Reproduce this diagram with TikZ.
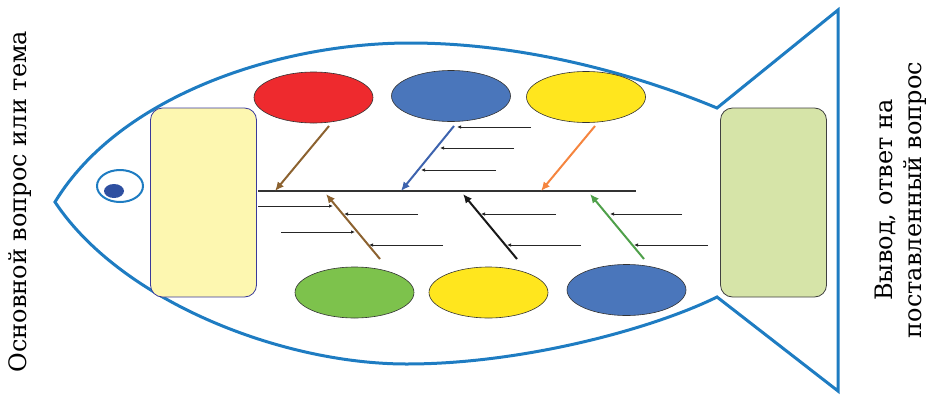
\documentclass[tikz,border=0pt]{standalone}
\usepackage{fontspec}
\setmainfont{DejaVu Serif}
\usepackage{tikz}
\usetikzlibrary{arrows,arrows.meta,shapes}

\definecolor{fishblue}{HTML}{1E7CC2}
\definecolor{pupil}{HTML}{2E4FA0}
\definecolor{ovred}{HTML}{EE2A2E}
\definecolor{ovblue}{HTML}{4A76BB}
\definecolor{ovyellow}{HTML}{FFE61E}
\definecolor{ovgreen}{HTML}{7DC24C}
\definecolor{topicfill}{HTML}{FDF7B0}
\definecolor{topicline}{HTML}{3A3A9A}
\definecolor{resultfill}{HTML}{D6E4A8}
\definecolor{bonebrown}{HTML}{8C6230}
\definecolor{boneblue}{HTML}{3D63AE}
\definecolor{boneorange}{HTML}{F5853F}
\definecolor{bonegreen}{HTML}{4FA04A}

\begin{document}
\begin{tikzpicture}[x=1pt,y=-1pt,>=latex',thick]
\tikzstyle{every node}=[inner sep=0pt]
\tikzstyle{oval}=[ellipse,draw=black!80,line width=0.6pt,minimum width=119pt,minimum height=51pt]
\tikzstyle{board}=[draw,rounded corners=12pt,line width=0.8pt,minimum width=106pt,minimum height=189pt]
\tikzstyle{bone}=[-{Latex[length=9pt,width=8pt]},line width=2pt]
\tikzstyle{rib}=[-{Latex[length=4pt,width=3.5pt]},line width=1pt,black!85]
\tikzstyle{caption}=[rotate=90,anchor=base,font=\fontsize{24}{29}\selectfont]

\useasboundingbox (0,0) rectangle (926,394);

% body and tail
\draw[fishblue,line width=3pt] (55,202) .. controls (120,95) and (280,43) .. (410,43)
  .. controls (530,43) and (645,78) .. (717,108) -- (838,10) -- (838,391) -- (717,297)
  .. controls (650,330) and (520,364) .. (407,364)
  .. controls (280,364) and (120,300) .. (55,202) -- cycle;

% eye
\node[ellipse,draw=fishblue,line width=2pt,minimum width=46pt,minimum height=32pt] (eye) at (120,186) {};
\node[ellipse,fill=pupil,minimum width=20pt,minimum height=14pt] (pupil) at (114,191) {};

% head and result boxes
\node[board,fill=topicfill,draw=topicline] (topic)  at (203.5,202.5) {};
\node[board,fill=resultfill,draw=black!75] (result) at (773.5,202.5) {};

% causes
\node[oval,fill=ovred]    (T1) at (313.5,97.5) {};
\node[oval,fill=ovblue]   (T2) at (451,96)     {};
\node[oval,fill=ovyellow] (T3) at (586,97)     {};
\node[oval,fill=ovgreen]  (B1) at (354.5,292.5) {};
\node[oval,fill=ovyellow] (B2) at (488.5,292.5) {};
\node[oval,fill=ovblue]   (B3) at (626.5,290)   {};

% spine
\coordinate (head) at (258,191);
\coordinate (tail) at (636,191);
\draw[line width=1.5pt,black!80] (head) -- (tail);

% big bones
\coordinate (t1) at (329,126);  \coordinate (s1) at (275,191);
\coordinate (t2) at (454,126);  \coordinate (s2) at (401,191);
\coordinate (t3) at (595,126);  \coordinate (s3) at (541,191);
\coordinate (b1) at (380,259);  \coordinate (u1) at (326,194);
\coordinate (b2) at (517,259);  \coordinate (u2) at (463,194);
\coordinate (b3) at (644,259);  \coordinate (u3) at (590,194);

\path
(t1) edge[bone,bonebrown]  (s1)
(t2) edge[bone,boneblue]   (s2)
(t3) edge[bone,boneorange] (s3)
(b1) edge[bone,bonebrown]  (u1)
(b2) edge[bone,black!90]   (u2)
(b3) edge[bone,bonegreen]  (u3);

% small ribs
\coordinate (r1a) at (531,127);  \coordinate (r1b) at (457,127);
\coordinate (r2a) at (514,148);  \coordinate (r2b) at (440,148);
\coordinate (r3a) at (496,170);  \coordinate (r3b) at (421,170);
\coordinate (r4a) at (258,206);  \coordinate (r4b) at (333,206);
\coordinate (r5a) at (418,214);  \coordinate (r5b) at (344,214);
\coordinate (r6a) at (281,232);  \coordinate (r6b) at (355,232);
\coordinate (r7a) at (443,245);  \coordinate (r7b) at (369,245);
\coordinate (r8a) at (556,214);  \coordinate (r8b) at (481,214);
\coordinate (r9a) at (581,245);  \coordinate (r9b) at (507,245);
\coordinate (r10a) at (682,214); \coordinate (r10b) at (610,214);
\coordinate (r11a) at (708,245); \coordinate (r11b) at (634,245);

\path
(r1a) edge[rib] (r1b)
(r2a) edge[rib] (r2b)
(r3a) edge[rib] (r3b)
(r4a) edge[rib] (r4b)
(r5a) edge[rib] (r5b)
(r6a) edge[rib] (r6b)
(r7a) edge[rib] (r7b)
(r8a) edge[rib] (r8b)
(r9a) edge[rib] (r9b)
(r10a) edge[rib] (r10b)
(r11a) edge[rib] (r11b);

% captions
\node[caption] (question) at (27,201.5) {Основной вопрос или тема};
\node[caption] (answer1)  at (892,200)  {Вывод, ответ на};
\node[caption] (answer2)  at (921,200)  {поставленный вопрос};

\end{tikzpicture}
\end{document}
